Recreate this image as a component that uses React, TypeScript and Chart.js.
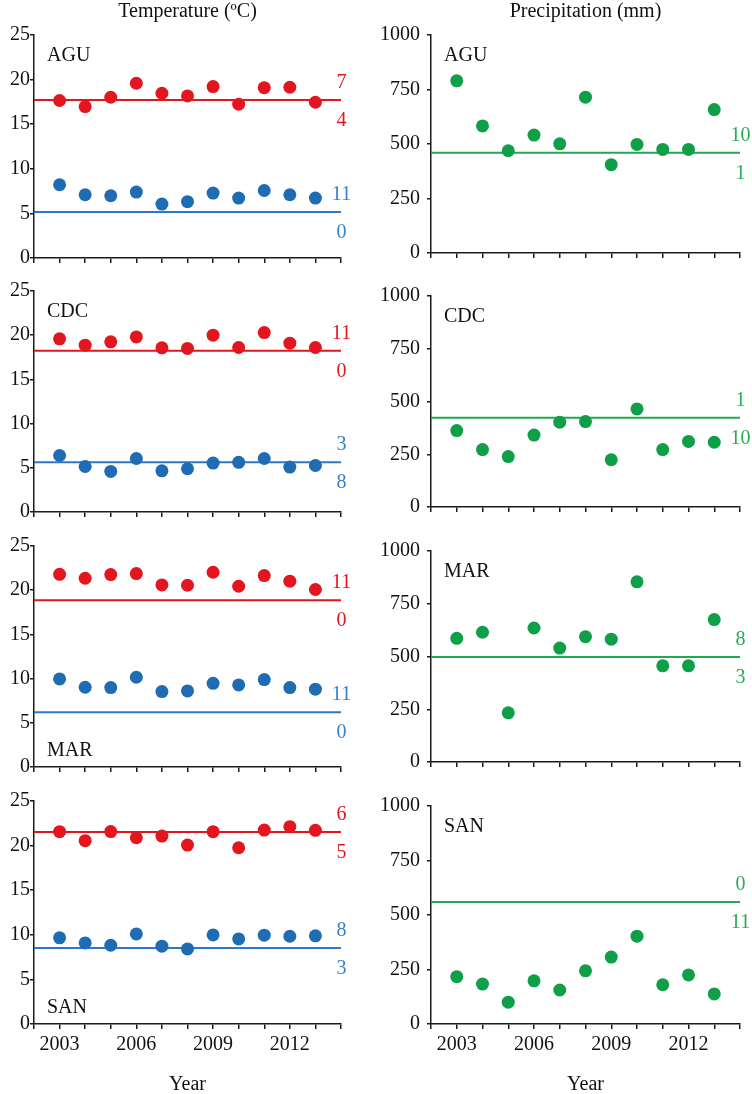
import React, { useEffect, useRef } from 'react';
import { Chart, registerables } from 'chart.js';

Chart.register(...registerables);

// ---------------- data ----------------
const years = [2003, 2004, 2005, 2006, 2007, 2008, 2009, 2010, 2011, 2012, 2013];
const axisYears = [2002, 2003, 2004, 2005, 2006, 2007, 2008, 2009, 2010, 2011, 2012, 2013, 2014];
const xTickLabels = [2003, 2006, 2009, 2012];
const stations = ['AGU', 'CDC', 'MAR', 'SAN'];
const tempTicks = [0, 5, 10, 15, 20, 25];
const precTicks = [0, 250, 500, 750, 1000];

const tmaxAGU = [17.66, 16.98, 18.02, 19.59, 18.47, 18.17, 19.22, 17.24, 19.1, 19.14, 17.46];
const tminAGU = [8.21, 7.09, 6.98, 7.39, 6.04, 6.31, 7.28, 6.72, 7.57, 7.09, 6.72];
const precAGU = [790, 583, 469, 541, 501, 715, 405, 498, 475, 475, 658];

const tmaxCDC = [19.59, 18.87, 19.25, 19.81, 18.57, 18.5, 20.0, 18.61, 20.3, 19.1, 18.61];
const tminCDC = [6.39, 5.15, 4.59, 6.05, 4.66, 4.89, 5.53, 5.62, 6.05, 5.08, 5.26];
const precCDC = [362, 272, 239, 341, 402, 405, 224, 465, 272, 311, 307];

const tmaxMAR = [21.8, 21.35, 21.77, 21.88, 20.6, 20.56, 22.03, 20.45, 21.65, 21.02, 20.08];
const tminMAR = [9.96, 9.02, 8.98, 10.15, 8.53, 8.61, 9.47, 9.29, 9.89, 8.98, 8.8];
const precMAR = [586, 615, 233, 635, 540, 594, 582, 854, 456, 456, 675];

const tmaxSAN = [21.56, 20.55, 21.57, 20.88, 21.07, 20.06, 21.56, 19.76, 21.74, 22.12, 21.71];
const tminSAN = [9.66, 9.09, 8.83, 10.1, 8.72, 8.42, 9.99, 9.54, 9.96, 9.84, 9.88];
const precSAN = [217, 183, 100, 198, 156, 244, 307, 403, 180, 225, 138];

// reference lines (one per station)
const tmaxRef = [17.7, 18.23, 18.87, 21.52];
const tminRef = [5.15, 5.64, 6.2, 8.53];
const precRef = [460, 423, 498, 560];

// counts above / below each reference line
const tmaxAbove = [7, 11, 11, 6];
const tmaxBelow = [4, 0, 0, 5];
const tminAbove = [11, 3, 11, 8];
const tminBelow = [0, 8, 0, 3];
const precAbove = [10, 1, 8, 0];
const precBelow = [1, 10, 3, 11];

const tmaxSeries = [tmaxAGU, tmaxCDC, tmaxMAR, tmaxSAN];
const tminSeries = [tminAGU, tminCDC, tminMAR, tminSAN];
const precSeries = [precAGU, precCDC, precMAR, precSAN];

// ---------------- styles / layout ----------------
const FONT = '"Liberation Serif", "Times New Roman", serif';
const FS = 20;
const RED = '#E3151E';
const BLUE_DOT = '#1F6BB4';
const BLUE_LINE = '#2F78C4';
const BLUE_TXT = '#3A80C8';
const GREEN_DOT = '#0E9F48';
const GREEN_LINE = '#1FAA50';
const GREEN_TXT = '#2AAA55';
const AXIS = '#1a1a1a';

const COLS = [
  { left: 0, width: 361, yw: 34, padRight: 20, tickPad: 0 },
  { left: 371, width: 381, yw: 60, padRight: 12, tickPad: 7 },
];
const ROWS = [
  { plotTop: 35, plotH: 223 },
  { plotTop: 291, plotH: 221 },
  { plotTop: 546, plotH: 221 },
  { plotTop: 801, plotH: 223 },
];
const tempLabelBottom = [false, false, true, true];

function geom(r: number, c: number) {
  const row = ROWS[r];
  const col = COLS[c];
  const padTop = r === 0 ? 35 : 14;
  const xh = r === 3 ? 73 : 14;
  return {
    left: col.left,
    top: row.plotTop - padTop,
    width: col.width,
    height: padTop + row.plotH + xh,
    padTop,
    xh,
    col,
  };
}

const pts = (vals: number[]) => years.map((yr, i) => ({ x: yr, y: vals[i] }));
const flat = (v: number) => [
  { x: axisYears[0], y: v },
  { x: axisYears[axisYears.length - 1], y: v },
];

function annotPlugin(cfg: any) {
  return {
    id: 'annot' + cfg.key,
    afterDatasetsDraw(chart: any) {
      const { ctx, chartArea, scales } = chart;
      ctx.save();
      ctx.font = `${FS}px ${FONT}`;
      ctx.textBaseline = 'middle';
      ctx.fillStyle = '#111';
      ctx.textAlign = 'left';
      const ly = cfg.labelBottom ? chartArea.bottom - 16 : chartArea.top + 21;
      ctx.fillText(cfg.station, chartArea.left + 13, ly);
      if (cfg.title) {
        ctx.textAlign = 'center';
        ctx.fillText(cfg.title, (chartArea.left + chartArea.right) / 2, chartArea.top - 23);
      }
      ctx.textAlign = 'center';
      const xEnd = scales.x.getPixelForValue(axisYears[axisYears.length - 1]) + 0.5;
      cfg.refs.forEach((rf: any) => {
        const y = scales.y.getPixelForValue(rf.value);
        ctx.fillStyle = rf.color;
        ctx.fillText(String(rf.above), xEnd, y - 17);
        ctx.fillText(String(rf.below), xEnd, y + 21);
      });
      ctx.restore();
    },
  };
}

function makeConfig(r: number, c: number) {
  const g = geom(r, c);
  const isBottom = r === 3;
  const isTemp = c === 0;
  const font = { family: FONT, size: FS };
  const datasets: any[] = [];
  const refs: any[] = [];
  if (isTemp) {
    datasets.push(
      { label: 'Tmax', data: pts(tmaxSeries[r]), backgroundColor: RED, borderWidth: 0, pointRadius: 6.5, order: 0 },
      { label: 'Tmin', data: pts(tminSeries[r]), backgroundColor: BLUE_DOT, borderWidth: 0, pointRadius: 6.5, order: 0 },
      { label: 'Tmax ref', data: flat(tmaxRef[r]), showLine: true, borderColor: RED, borderWidth: 2, pointRadius: 0, order: 1 },
      { label: 'Tmin ref', data: flat(tminRef[r]), showLine: true, borderColor: BLUE_LINE, borderWidth: 2, pointRadius: 0, order: 1 }
    );
    refs.push(
      { value: tmaxRef[r], above: tmaxAbove[r], below: tmaxBelow[r], color: RED },
      { value: tminRef[r], above: tminAbove[r], below: tminBelow[r], color: BLUE_TXT }
    );
  } else {
    datasets.push(
      { label: 'P', data: pts(precSeries[r]), backgroundColor: GREEN_DOT, borderWidth: 0, pointRadius: 6.5, order: 0 },
      { label: 'P ref', data: flat(precRef[r]), showLine: true, borderColor: GREEN_LINE, borderWidth: 2, pointRadius: 0, order: 1 }
    );
    refs.push({ value: precRef[r], above: precAbove[r], below: precBelow[r], color: GREEN_TXT });
  }
  const yTicks = isTemp ? tempTicks : precTicks;
  return {
    type: 'scatter',
    data: { datasets },
    options: {
      responsive: false,
      maintainAspectRatio: false,
      animation: false,
      devicePixelRatio: 1,
      layout: { padding: { top: g.padTop, right: g.col.padRight, left: 0, bottom: 0 } },
      plugins: { legend: { display: false }, tooltip: { enabled: false }, title: { display: false } },
      scales: {
        x: {
          type: 'linear',
          position: 'bottom',
          min: axisYears[0],
          max: axisYears[axisYears.length - 1],
          afterFit: (s: any) => {
            s.height = g.xh;
          },
          afterBuildTicks: (s: any) => {
            s.ticks = axisYears.map((v) => ({ value: v }));
          },
          ticks: {
            autoSkip: false,
            maxRotation: 0,
            minRotation: 0,
            padding: 4,
            color: '#111',
            font,
            callback: (v: any) => (isBottom && xTickLabels.includes(Number(v)) ? String(v) : ''),
          },
          grid: { drawOnChartArea: false, drawTicks: true, tickLength: 5, color: AXIS, lineWidth: 1.5 },
          border: { display: true, color: AXIS, width: 1.5 },
          title: { display: isBottom, text: 'Year', color: '#111', font, padding: { top: 0, bottom: 0 } },
        },
        y: {
          type: 'linear',
          min: yTicks[0],
          max: yTicks[yTicks.length - 1],
          afterFit: (s: any) => {
            s.width = g.col.yw;
          },
          afterBuildTicks: (s: any) => {
            s.ticks = yTicks.map((v) => ({ value: v }));
          },
          ticks: { padding: g.col.tickPad, color: '#111', font, callback: (v: any) => String(v) },
          grid: { drawOnChartArea: false, drawTicks: true, tickLength: 4, color: AXIS, lineWidth: 1.5 },
          border: { display: true, color: AXIS, width: 1.5 },
        },
      },
    },
    plugins: [
      annotPlugin({
        key: `${r}_${c}`,
        station: stations[r],
        labelBottom: isTemp ? tempLabelBottom[r] : false,
        title: r === 0 ? (isTemp ? 'Temperature (ºC)' : 'Precipitation (mm)') : null,
        refs,
      }),
    ],
  };
}

const panels: { r: number; c: number }[] = [];
for (let r = 0; r < 4; r++) for (let c = 0; c < 2; c++) panels.push({ r, c });

export default function App() {
  const refs = useRef<(HTMLCanvasElement | null)[]>([]);
  useEffect(() => {
    const charts = panels.map((p, i) => new Chart(refs.current[i] as HTMLCanvasElement, makeConfig(p.r, p.c) as any));
    return () => charts.forEach((ch) => ch.destroy());
  }, []);
  return (
    <div
      style={{
        position: 'absolute',
        left: 0,
        top: 0,
        width: 752,
        height: 1094,
        overflow: 'hidden',
        background: '#fff',
      }}
    >
      {panels.map((p, i) => {
        const g = geom(p.r, p.c);
        return (
          <canvas
            key={i}
            ref={(el) => {
              refs.current[i] = el;
            }}
            width={g.width}
            height={g.height}
            style={{ position: 'absolute', left: g.left, top: g.top, width: g.width, height: g.height }}
          />
        );
      })}
    </div>
  );
}
